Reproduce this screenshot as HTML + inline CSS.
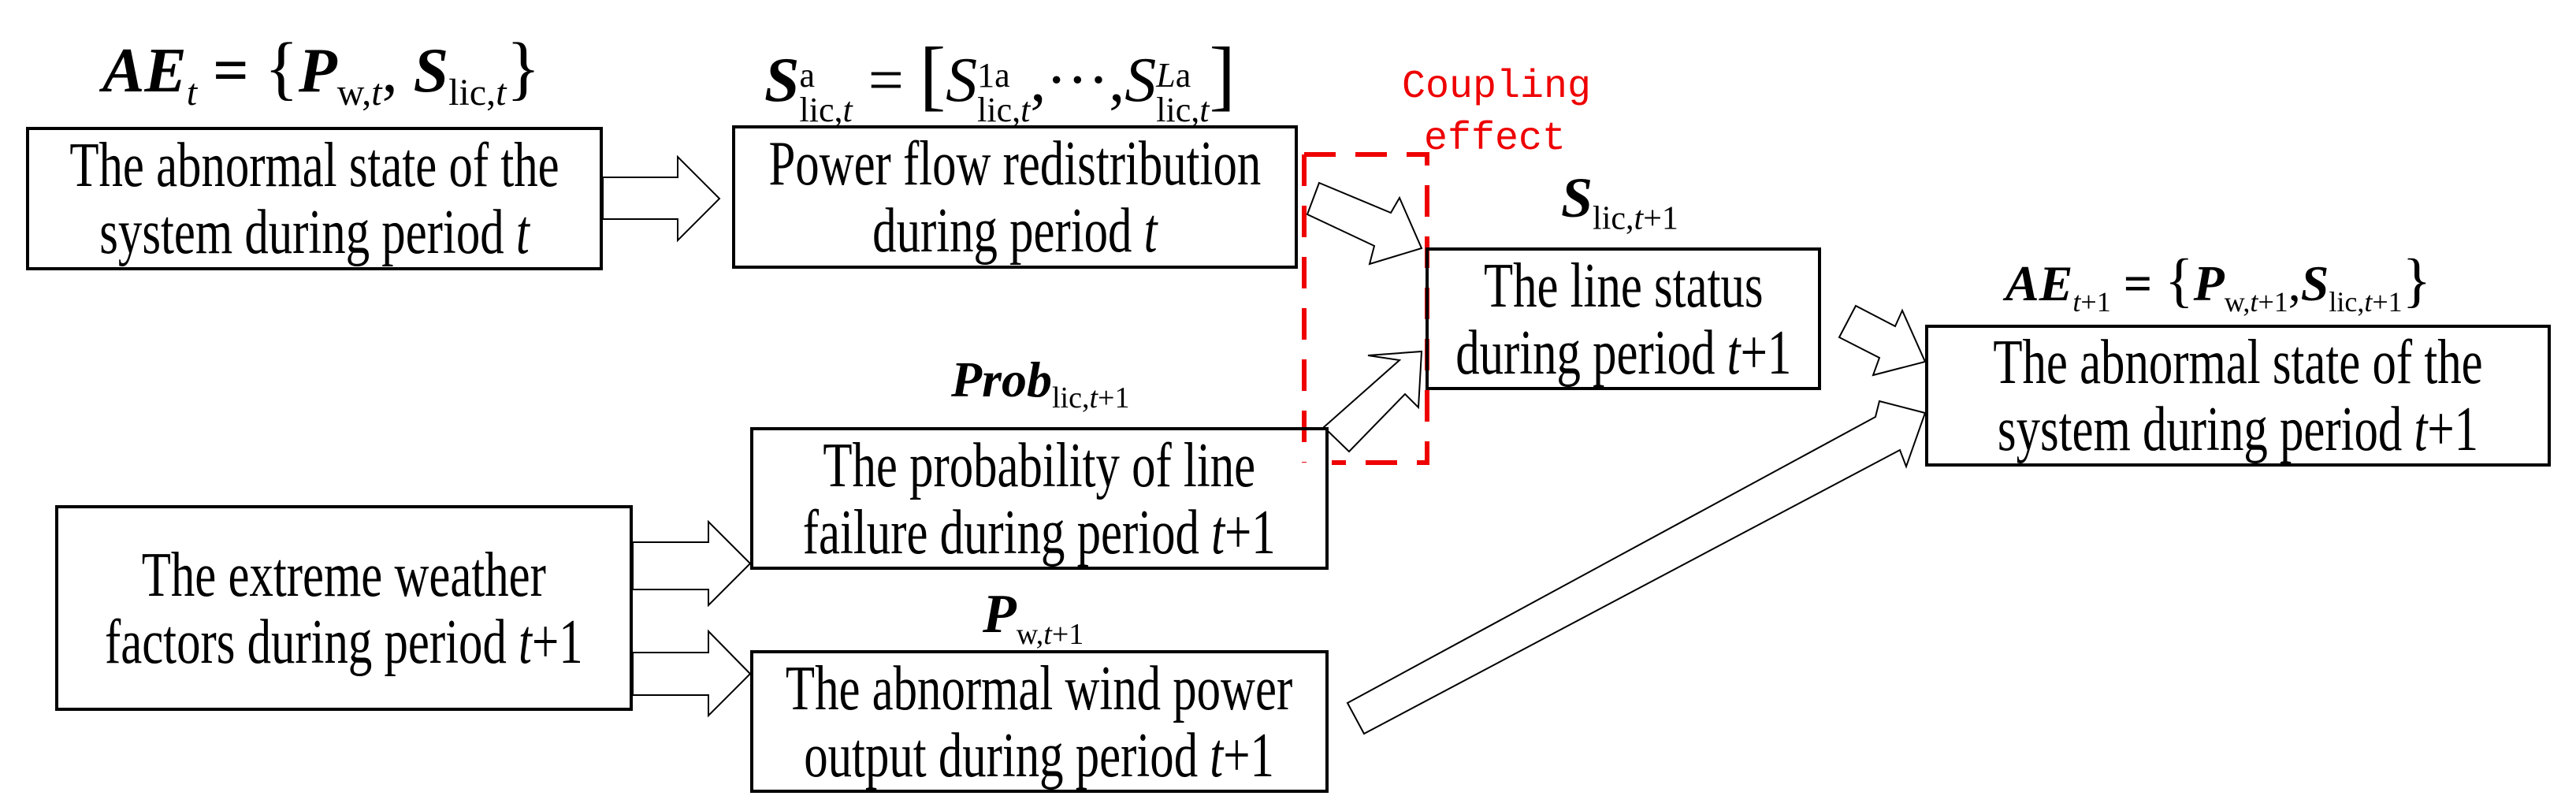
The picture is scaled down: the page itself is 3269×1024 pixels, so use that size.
<!DOCTYPE html>
<html><head><meta charset="utf-8"><style>
html,body{margin:0;padding:0;background:#fff;}
#c{position:relative;width:3269px;height:1024px;overflow:hidden;font-family:"Liberation Serif","DejaVu Serif",serif;}
.box{position:absolute;border:4px solid #000;box-sizing:border-box;display:flex;align-items:center;justify-content:center;text-align:center;color:#000;font-family:"Liberation Serif","DejaVu Serif",serif;}
.box span.t{display:block;font-size:64px;line-height:68px;transform:scale(0.95,1.25);white-space:nowrap;}
.f{position:absolute;font-size:80px;white-space:nowrap;color:#000;line-height:1;font-family:"Liberation Serif","DejaVu Serif",serif;}
.bi{font-weight:bold;font-style:italic;}
.f sub,.f sup{font-size:48px;font-weight:normal;}
.ss{display:inline-flex;flex-direction:column;vertical-align:0.42em;font-size:44px;line-height:1.0;text-align:left;}
.red{position:absolute;color:#e00;font-family:"Liberation Mono",monospace;font-size:50px;line-height:1;}
svg{position:absolute;left:0;top:0;}
</style></head><body><div id="c">
<svg width="3269" height="1024">
<g fill="#fff" stroke="#000" stroke-width="2">
<polygon points="765,225 860,225 860,199 913,252 860,305 860,278 765,278"/>
<polygon points="803,688 899,688 899,662 952,715 899,768 899,748 803,748"/>
<polygon points="803,828 899,828 899,801 952,855 899,908 899,882 803,882"/>
<polygon points="1674,232 1765,270 1776,251 1804,315 1738,335 1744,312 1659,272"/>
<polygon points="1680,542 1776,457 1736,451 1804,446 1800,517 1783,500 1712,573"/>
<polygon points="2355,388 2405,414 2414,394 2443,459 2377,476 2385,454 2334,428"/>
<polygon points="1710,892 2380,529 2385,509 2443,524 2419,592 2411,571 1731,931"/>
</g>
<polyline points="1655,196 1811,196 1811,587 1690,587" fill="none" stroke="#e00" stroke-width="6" stroke-dasharray="40,25"/>
<line x1="1655" y1="196" x2="1655" y2="587" stroke="#e00" stroke-width="6" stroke-dasharray="40,25"/>
</svg>
<div class="box" style="left:33px;top:161px;width:732px;height:182px;"><span class="t">The abnormal state of the<br>system during period <i>t</i></span></div>
<div class="box" style="left:929px;top:159px;width:718px;height:182px;"><span class="t">Power flow redistribution<br>during period <i>t</i></span></div>
<div class="box" style="left:952px;top:542px;width:734px;height:181px;"><span class="t">The probability of line<br>failure during period <i>t</i>+1</span></div>
<div class="box" style="left:70px;top:641px;width:733px;height:261px;"><span class="t">The extreme weather<br>factors during period <i>t</i>+1</span></div>
<div class="box" style="left:952px;top:825px;width:734px;height:181px;"><span class="t">The abnormal wind power<br>output during period <i>t</i>+1</span></div>
<div class="box" style="left:1809px;top:314px;width:502px;height:181px;"><span class="t">The line status<br>during period <i>t</i>+1</span></div>
<div class="box" style="left:2443px;top:412px;width:794px;height:180px;"><span class="t">The abnormal state of the<br>system during period <i>t</i>+1</span></div>
<div class="f" style="left:130px;top:42px;"><span class="bi">AE</span><sub><i>t</i></sub> <b>=</b> <span style="font-size:90px">{</span><span class="bi">P</span><sub>w,<i>t</i></sub>, <span class="bi">S</span><sub>lic,<i>t</i></sub><span style="font-size:90px">}</span></div>
<div class="f" style="left:970px;top:45px;"><span class="bi">S</span><span class="ss"><span>a</span><span>lic,<i>t</i></span></span> = <span style="font-size:100px">[</span><i>S</i><span class="ss"><span>1a</span><span>lic,<i>t</i></span></span>,···,<i>S</i><span class="ss"><span><i>L</i>a</span><span>lic,<i>t</i></span></span><span style="font-size:100px">]</span></div>
<div class="f" style="left:1207px;top:450px;font-size:64px;"><span class="bi">Prob</span><sub style="font-size:38px">lic,<i>t</i>+1</sub></div>
<div class="f" style="left:1247px;top:745px;font-size:70px;"><span class="bi">P</span><sub style="font-size:38px">w,<i>t</i>+1</sub></div>
<div class="f" style="left:1981px;top:215px;font-size:72px;"><span class="bi">S</span><sub style="font-size:42px">lic,<i>t</i>+1</sub></div>
<div class="f" style="left:2545px;top:318px;font-size:64px;"><span class="bi">AE</span><sub style="font-size:36px"><i>t</i>+1</sub> <b>=</b> <span style="font-size:76px">{</span><span class="bi">P</span><sub style="font-size:36px">w,<i>t</i>+1</sub>,<span class="bi">S</span><sub style="font-size:36px">lic,<i>t</i>+1</sub><span style="font-size:76px">}</span></div>
<div class="red" style="left:1779px;top:86px;">Coupling</div>
<div class="red" style="left:1807px;top:152px;">effect</div>
</div></body></html>
